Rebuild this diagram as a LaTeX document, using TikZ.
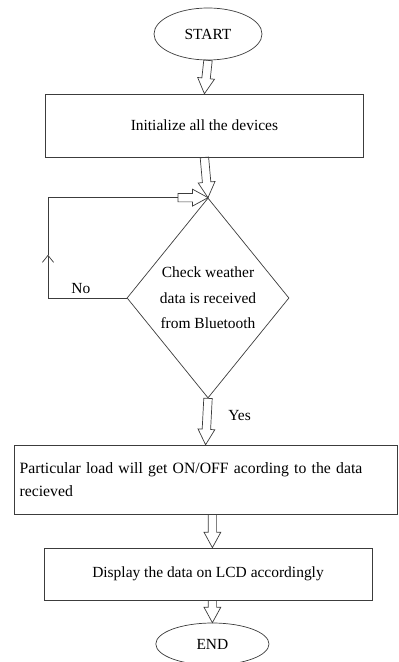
\documentclass[tikz,border=0pt]{standalone}
\usepackage{fontspec}
\setmainfont{Liberation Serif}
\usepackage{tikz}
\usetikzlibrary{shapes.geometric, arrows.meta, positioning, calc}
\definecolor{LineGray}{RGB}{60, 60, 60}

% hollow block arrow from #1 to #2
\newcommand{\blockarrow}[2]{%
  \path (#1) coordinate (ba) (#2) coordinate (bb);
  \path ($(bb)!11pt!(ba)$) coordinate (bh);
  \draw[flowline] ($(ba)!3pt!90:(bb)$) -- ($(bh)!3pt!90:(bb)$) -- ($(bh)!6pt!90:(bb)$)
    -- (bb) -- ($(bh)!6pt!-90:(bb)$) -- ($(bh)!3pt!-90:(bb)$) -- ($(ba)!3pt!-90:(bb)$) -- cycle;
}

\begin{document}
\begin{tikzpicture}[
        flowline/.style={draw=LineGray, line width=0.5pt},
        terminal/.style={flowline, ellipse, inner sep=0pt, font=\fontsize{11}{13}\selectfont},
        process/.style={flowline, rectangle, inner sep=0pt, font=\fontsize{11}{13}\selectfont},
        decision/.style={flowline, diamond, inner sep=0pt, align=center, font=\fontsize{11}{18}\selectfont},
        lbl/.style={font=\fontsize{11}{13}\selectfont, inner sep=0pt}
    ]
    \useasboundingbox (0,0) rectangle (9.95,-16.55);

    % Start / end
    \node[terminal, minimum width=2.7cm, minimum height=1.3cm] (start) at (5.2,-0.85) {START};
    \node[terminal, minimum width=2.83cm, minimum height=1.05cm] (fin) at (5.31,-16.1) {END};

    % Steps
    \node[process, minimum width=7.93cm, minimum height=1.575cm] (init) at (5.11,-3.14) {Initialize all the devices};
    \node[decision, minimum width=4.05cm, minimum height=5cm] (dec) at (5.2,-7.45) {Check weather\\data is received\\from Bluetooth};
    \node[process, minimum width=9.58cm, minimum height=1.725cm, text width=9.3cm, align=left,
          font=\fontsize{11.2}{16}\selectfont] (load) at (5.14,-11.99)
          {Particular load will get ON/OFF acording to the data\\recieved};
    \node[process, minimum width=8.2cm, minimum height=1.3cm] (disp) at (5.2,-14.35) {Display the data on LCD accordingly};

    % Flow
    \blockarrow{start.south}{init.north}
    \blockarrow{init.south}{dec.north}
    \blockarrow{dec.south}{load.north}
    \blockarrow{load.south -| fin.north}{disp.north -| fin.north}
    \blockarrow{disp.south -| fin.north}{fin.north}

    % No branch back to the check
    \coordinate (loopup) at (1.2,-6.37);
    \coordinate (loopin) at ($(dec.north)+(-0.75,0)$);
    \draw[flowline, -{Straight Barb[length=5pt,width=8pt]}] (dec.west) -| (loopup);
    \draw[flowline] (loopup) |- (loopin);
    \blockarrow{loopin}{dec.north}

    % Branch labels
    \node[lbl, anchor=south east] (no) at ($(dec.west)+(-0.9,0.1)$) {No};
    \node[lbl, below right=0.3cm and 0.5cm of dec.south] (yes) {Yes};

\end{tikzpicture}
\end{document}
